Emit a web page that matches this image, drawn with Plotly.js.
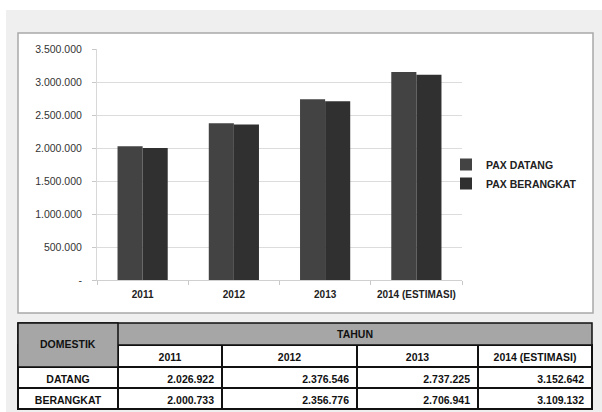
<!DOCTYPE html>
<html><head><meta charset="utf-8">
<script src="https://cdn.plot.ly/plotly-3.0.1.min.js"></script>
<style>html,body{margin:0;padding:0;background:#fff}</style>
</head><body><div id="chart" style="width:602px;height:412px"></div>
<script>
// ---- data ----
const years = ['2011', '2012', '2013', '2014 (ESTIMASI)'];
const paxDatang = [2026922, 2376546, 2737225, 3152642];
const paxBerangkat = [2000733, 2356776, 2706941, 3109132];
const seriesNames = ['PAX DATANG', 'PAX BERANGKAT'];
const rowLabels = ['DATANG', 'BERANGKAT'];
const yTickVals = [0, 500000, 1000000, 1500000, 2000000, 2500000, 3000000, 3500000];
const tableCorner = 'DOMESTIK';
const tableGroup = 'TAHUN';

// ---- helpers ----
const W = 602, H = 412;
const px = x => x / W;
const py = y => 1 - y / H;
const fmt = n => String(n).replace(/\B(?=(\d{3})+(?!\d))/g, '.');
const FONT = 'Liberation Sans, Arial, sans-serif';

const bars = [
  { type: 'bar', name: seriesNames[0], x: years, y: paxDatang,
    marker: { color: '#434343' }, hoverinfo: 'none' },
  { type: 'bar', name: seriesNames[1], x: years, y: paxBerangkat,
    marker: { color: '#303030' }, hoverinfo: 'none' }
];

const table = {
  type: 'table',
  domain: { x: [px(18), px(592)], y: [py(410), py(345)] },
  columnwidth: [100, 104, 135, 121, 114],
  header: {
    values: [''].concat(years),
    align: 'center',
    height: 22,
    fill: { color: ['#a6a6a6', '#ffffff', '#ffffff', '#ffffff', '#ffffff'] },
    line: { color: '#111', width: 1.5 },
    font: { family: FONT, size: 10.5, color: '#111', weight: 700 }
  },
  cells: {
    values: [rowLabels].concat(years.map((_, i) => [fmt(paxDatang[i]), fmt(paxBerangkat[i])])),
    align: ['center', 'right', 'right', 'right', 'right'],
    height: 21,
    fill: { color: '#ffffff' },
    line: { color: '#111', width: 1.5 },
    font: { family: FONT, size: 10.5, color: '#111', weight: 700 }
  }
};

const shapes = [
  { type: 'rect', xref: 'paper', yref: 'paper', x0: px(6), x1: px(602), y0: py(412), y1: py(10),
    fillcolor: '#efefef', line: { width: 0 }, layer: 'below' },
  { type: 'rect', xref: 'paper', yref: 'paper', x0: px(18), x1: px(593), y0: py(313), y1: py(33),
    fillcolor: '#ffffff', line: { color: '#a9a9a9', width: 1.5 }, layer: 'below' },
  { type: 'rect', xref: 'paper', yref: 'paper', x0: px(18), x1: px(592), y0: py(345), y1: py(323),
    fillcolor: '#a6a6a6', line: { color: '#111', width: 1.5 }, layer: 'above' },
  { type: 'rect', xref: 'paper', yref: 'paper', x0: px(18), x1: px(118), y0: py(367), y1: py(323),
    fillcolor: '#a6a6a6', line: { color: '#111', width: 1.5 }, layer: 'above' }
];

const annotations = [
  { xref: 'paper', yref: 'paper', x: px(68), y: py(344), text: tableCorner, showarrow: false,
    xanchor: 'center', yanchor: 'middle', font: { family: FONT, size: 10.5, color: '#111', weight: 700 } },
  { xref: 'paper', yref: 'paper', x: px(355), y: py(334), text: tableGroup, showarrow: false,
    xanchor: 'center', yanchor: 'middle', font: { family: FONT, size: 10.5, color: '#111', weight: 700 } }
];

const layout = {
  width: W, height: H,
  margin: { l: 0, r: 0, t: 0, b: 0 },
  paper_bgcolor: '#ffffff',
  plot_bgcolor: 'rgba(0,0,0,0)',
  barmode: 'group', bargap: 0.45, bargroupgap: 0,
  showlegend: true,
  legend: { x: px(446), y: py(150), xanchor: 'left', yanchor: 'top', tracegroupgap: 0,
    bgcolor: 'rgba(0,0,0,0)', font: { family: FONT, size: 10.5, color: '#222', weight: 700 } },
  xaxis: {
    domain: [px(97), px(462)], type: 'category',
    showline: true, linecolor: '#d0d0d0', linewidth: 1,
    ticks: 'outside', tickson: 'boundaries', ticklen: 4, tickcolor: '#c8c8c8',
    tickangle: 0, automargin: false,
    ticklabelstandoff: 5,
    tickfont: { family: FONT, size: 10, color: '#222', weight: 700 },
    fixedrange: true
  },
  yaxis: {
    domain: [py(280), py(49)], range: [0, 3500000],
    tickmode: 'array', tickvals: yTickVals,
    ticktext: yTickVals.map(v => v === 0 ? '-' : fmt(v)),
    showgrid: true, gridcolor: '#dcdcdc', zeroline: false,
    showline: true, linecolor: '#d8d8d8',
    ticks: 'outside', ticklen: 4, tickcolor: '#c8c8c8',
    ticklabelstandoff: 8, automargin: false,
    tickfont: { family: FONT, size: 10.5, color: '#333' },
    fixedrange: true
  },
  shapes: shapes,
  annotations: annotations
};

Plotly.newPlot('chart', bars.concat([table]), layout, { displayModeBar: false, staticPlot: true });
</script>
</body></html>
